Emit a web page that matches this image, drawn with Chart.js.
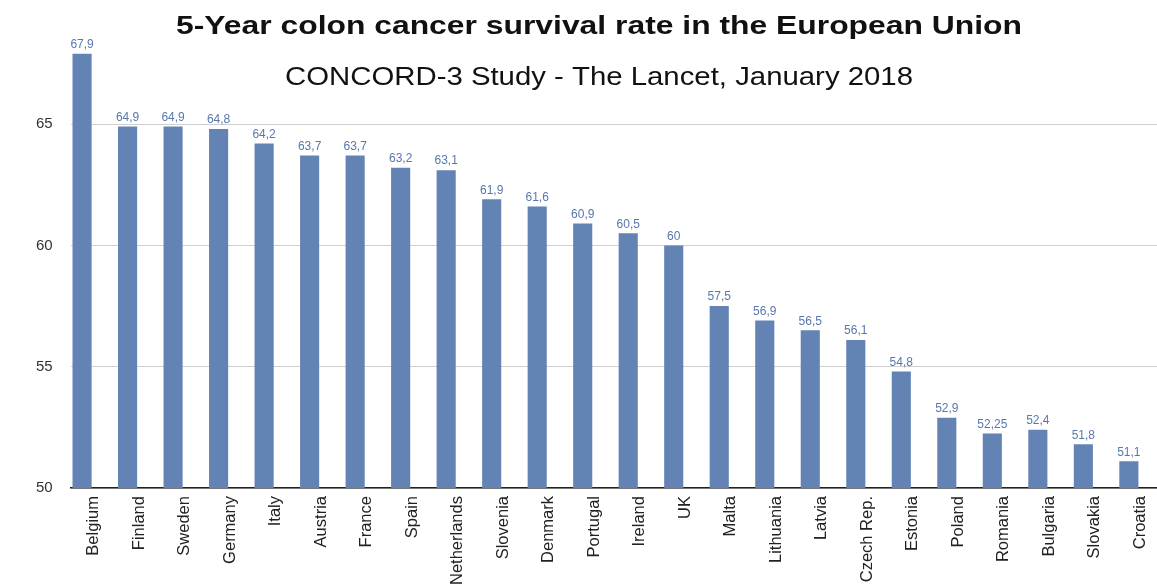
<!DOCTYPE html>
<html>
<head>
<meta charset="utf-8">
<title>5-Year colon cancer survival rate in the European Union</title>
<script src="https://cdn.jsdelivr.net/npm/chart.js@4/dist/chart.umd.min.js"></script>
<style>
  html, body { margin: 0; padding: 0; background: #fff; overflow: hidden; }
  #wrap { width: 1157px; height: 585px; overflow: hidden; position: relative; }
  canvas { display: block; }
</style>
</head>
<body>
<div id="wrap">
  <canvas id="chart" width="1175" height="620"></canvas>
</div>
<script>
// Chart data
const countries = ['Belgium', 'Finland', 'Sweden', 'Germany', 'Italy', 'Austria', 'France', 'Spain',
  'Netherlands', 'Slovenia', 'Denmark', 'Portugal', 'Ireland', 'UK', 'Malta', 'Lithuania', 'Latvia',
  'Czech Rep.', 'Estonia', 'Poland', 'Romania', 'Bulgaria', 'Slovakia', 'Croatia'];
const survivalRates = [67.9, 64.9, 64.9, 64.8, 64.2, 63.7, 63.7, 63.2, 63.1, 61.9, 61.6, 60.9, 60.5,
  60, 57.5, 56.9, 56.5, 56.1, 54.8, 52.9, 52.25, 52.4, 51.8, 51.1];
const yTicks = [50, 55, 60, 65];

const chartTitle = '5-Year colon cancer survival rate in the European Union';
const chartSubtitle = 'CONCORD-3 Study - The Lancet, January 2018';

const BAR_COLOR = '#6483b5';
const LABEL_COLOR = '#5878ad';
const FONT = 'Helvetica, "Liberation Sans", Arial, sans-serif';

// Draw text centred at (x, y), stretched horizontally to the given width
// (the original picture is a bit wider than tall)
function drawWideText(ctx, text, font, x, y, width) {
  ctx.save();
  ctx.font = font;
  const sx = width / ctx.measureText(text).width;
  ctx.translate(x, y);
  ctx.scale(sx, 1);
  ctx.fillText(text, 0, 0);
  ctx.restore();
}

// Titles are drawn over the plot, like in the original
const titlePlugin = {
  id: 'titles',
  afterDraw: function(chart) {
    const ctx = chart.ctx;
    ctx.save();
    ctx.fillStyle = '#111';
    ctx.textAlign = 'center';
    ctx.textBaseline = 'middle';
    drawWideText(ctx, chartTitle, 'bold 26.5px ' + FONT, 599, 27, 846);
    drawWideText(ctx, chartSubtitle, '25px ' + FONT, 599, 78, 628);
    ctx.restore();
  }
};

// Value labels above each bar (comma decimals)
const valueLabels = {
  id: 'valueLabels',
  afterDatasetsDraw: function(chart) {
    const ctx = chart.ctx;
    const meta = chart.getDatasetMeta(0);
    ctx.save();
    ctx.fillStyle = LABEL_COLOR;
    ctx.font = '12px ' + FONT;
    ctx.textAlign = 'center';
    ctx.textBaseline = 'bottom';
    meta.data.forEach((bar, i) => {
      const text = String(survivalRates[i]).replace('.', ',');
      ctx.fillText(text, bar.x, bar.y - 3);
    });
    ctx.restore();
  }
};

new Chart(document.getElementById('chart'), {
  type: 'bar',
  data: {
    labels: countries,
    datasets: [
      {
        data: survivalRates,
        backgroundColor: BAR_COLOR,
        borderWidth: 0,
        barPercentage: 0.84,
        categoryPercentage: 1
      },
      {
        // empty series so each bar sits in the left half of its slot
        data: countries.map(() => null),
        backgroundColor: 'rgba(0,0,0,0)',
        barPercentage: 0.84,
        categoryPercentage: 1
      }
    ]
  },
  options: {
    responsive: false,
    animation: false,
    layout: { padding: { left: 18, right: 12, top: 23, bottom: 35 } },
    plugins: {
      legend: { display: false },
      tooltip: { enabled: false }
    },
    scales: {
      x: {
        grid: { display: false },
        border: { display: true, color: '#222', width: 1.5 },
        ticks: {
          autoSkip: false,
          minRotation: 90,
          maxRotation: 90,
          padding: 0,
          color: '#222',
          font: { family: FONT, size: 16.5 }
        }
      },
      y: {
        min: 50,
        max: 69,
        afterBuildTicks: function(scale) {
          scale.ticks = yTicks.map(v => ({ value: v }));
        },
        grid: { color: '#cfcfcf', lineWidth: 1, drawTicks: false },
        border: { display: false },
        ticks: {
          padding: 18,
          color: '#333',
          font: { family: FONT, size: 15 }
        }
      }
    }
  },
  plugins: [titlePlugin, valueLabels]
});
</script>
</body>
</html>
